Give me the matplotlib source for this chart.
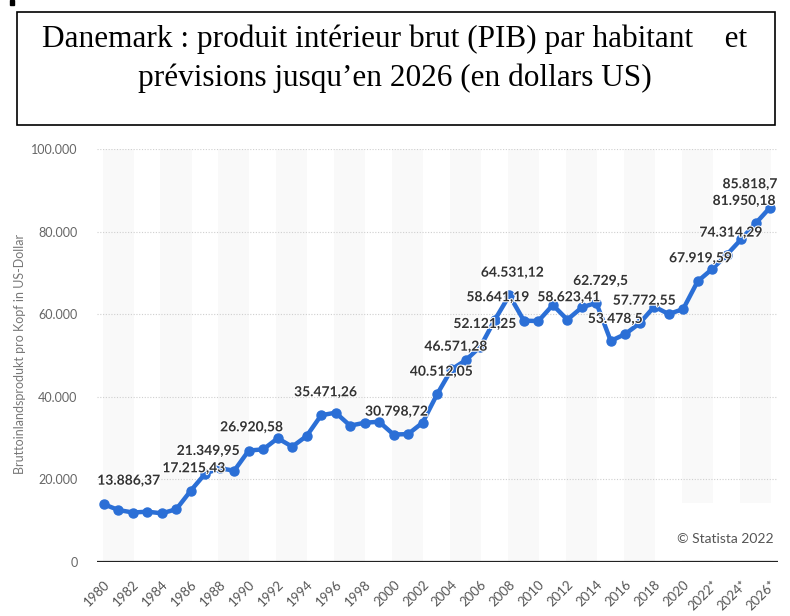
import matplotlib
matplotlib.use("Agg")
import matplotlib.pyplot as plt
import matplotlib.patheffects as pe
from matplotlib.patches import Rectangle

# Données : PIB par habitant du Danemark (dollars US), prévisions à partir de 2022
annees = list(range(1980, 2027))
pib = [13886.37, 12500, 11900, 12100, 11700, 12700, 17215.43, 21349.95, 22600, 22050,
       26920.58, 27200, 29900, 27850, 30450, 35471.26, 36100, 32950, 33650, 33900,
       30798.72, 30900, 33650, 40512.05, 46571.28, 48850, 52121.25, 58641.19, 64531.12, 58400,
       58300, 62200, 58623.41, 61600, 62729.5, 53478.5, 55150, 57772.55, 61800, 60000,
       61200, 67919.59, 70900, 74314.29, 78100, 81950.18, 85818.7]

# années dont la valeur est affichée
annees_etiquetees = [1980, 1986, 1987, 1990, 1995, 2000, 2003, 2004, 2006, 2007,
                     2008, 2012, 2014, 2015, 2017, 2021, 2023, 2025, 2026]
etiquettes = ["13.886,37", "17.215,43", "21.349,95", "26.920,58", "35.471,26", "30.798,72",
              "40.512,05", "46.571,28", "52.121,25", "58.641,19", "64.531,12", "58.623,41",
              "62.729,5", "53.478,5", "57.772,55", "67.919,59", "74.314,29", "81.950,18",
              "85.818,7"]

ticks_annees = list(range(1980, 2027, 2))
ticks_textes = [str(a) if a < 2022 else f"{a}*" for a in ticks_annees]
ticks_y = [0, 20000, 40000, 60000, 80000, 100000]
ticks_y_textes = ["0", "20.000", "40.000", "60.000", "80.000", "100.000"]

# position (x, y) du centre de chaque étiquette, en coordonnées du graphique
pos_etiquettes = [(1981.7, 19610), (1986.2, 22620), (1987.2, 26810), (1990.2, 32550),
                  (1995.3, 41040), (2000.2, 36340), (2003.3, 46030), (2004.3, 52090),
                  (2006.3, 57590), (2007.2, 64070), (2008.2, 70030), (2012.1, 64070),
                  (2014.3, 68020), (2015.3, 58810), (2017.3, 63240), (2021.2, 73520),
                  (2023.3, 79730), (2024.2, 87410), (2024.6, 91460)]

bleu = "#2b6fd6"

fig = plt.figure(figsize=(7.9, 6.16), dpi=100)

# Cadre du titre
fig.patches.append(Rectangle((17 / 790, 1 - 125 / 616), (775 - 17) / 790, (125 - 12) / 616,
                             transform=fig.transFigure, fill=False, edgecolor="black", lw=1.2))
fig.patches.append(Rectangle((10 / 790, 1 - 5 / 616), 4 / 790, 5 / 616,
                             transform=fig.transFigure, color="black"))
fig.text(0.5, 1 - 39 / 616, "Danemark : produit intérieur brut (PIB) par habitant    et",
         ha="center", va="center", fontsize=22.5, family="Liberation Serif")
fig.text(0.5, 1 - 78 / 616, "prévisions jusqu’en 2026 (en dollars US)",
         ha="center", va="center", fontsize=22.5, family="Liberation Serif")

ax = fig.add_axes([97 / 790, 1 - 561.6 / 616, (778 - 97) / 790, (561.6 - 149) / 616])
ax.set_xlim(1979.52, 2026.55)
ax.set_ylim(0, 100000)

# bandes grises
for a in range(1980, 2027, 4):
    ax.axvspan(a - 0.1, a + 2.05, color="#f9f9f9", zorder=0, lw=0)

for v in ticks_y[1:]:
    ax.axhline(v, color="#cfcfcf", lw=0.8, ls=(0, (1, 1.5)), zorder=1)
ax.axhline(0, color="#222222", lw=1.6, zorder=2)

ax.plot(annees, pib, color=bleu, lw=3.2, marker="o", markersize=6.5, zorder=3,
        solid_joinstyle="round")

for (x, y), t in zip(pos_etiquettes, etiquettes):
    ax.text(x, y, t, ha="center", va="center", fontsize=10, fontweight="bold",
            family="Lato", color="#333333", zorder=5,
            path_effects=[pe.withStroke(linewidth=1.5, foreground="white")])

# zone blanche du copyright
ax.add_patch(Rectangle((0.855, 0.003), 0.145, 0.14, transform=ax.transAxes,
                       color="white", zorder=1, lw=0))
ax.text(0.993, 0.055, "© Statista 2022", transform=ax.transAxes, ha="right", va="center",
        fontsize=10, family="Lato", color="#555555", zorder=4)

for s in ax.spines.values():
    s.set_visible(False)

ax.set_yticks(ticks_y)
ax.set_yticklabels(ticks_y_textes, family="Lato", fontsize=9, color="#666666")
ax.set_xticks(ticks_annees)
ax.set_xticklabels(ticks_textes, rotation=45, ha="right", rotation_mode="anchor",
                   family="Lato", fontsize=9.5, color="#555555")
ax.tick_params(axis="both", length=0)
ax.tick_params(axis="y", pad=14)
ax.tick_params(axis="x", pad=12)

fig.text(20 / 790, 1 - 354 / 616, "Bruttoinlandsprodukt pro Kopf in US-Dollar", rotation=90,
         ha="center", va="center", fontsize=9, family="Lato", color="#777777")

fig.savefig("out.png", dpi=100)
